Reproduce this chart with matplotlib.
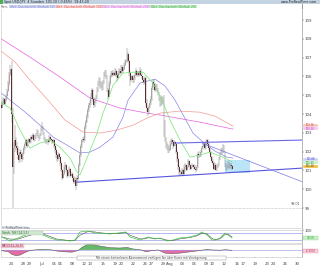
import matplotlib
matplotlib.use("Agg")
import matplotlib.pyplot as plt
from matplotlib.patches import Rectangle

W, H = 320, 267

# x axis: trading-day index counted from Jun 24 (weekends dropped)
tick_days = [0, 2, 3, 5, 7, 8, 10, 12, 13, 15, 17, 18, 20, 22, 23, 25, 26,
             28, 30, 32, 33, 35, 37, 38, 40, 42, 43, 45, 47]
tick_labels = ["24", "28", "29", "Jul", "05", "06", "08", "12", "13", "15", "19", "20",
               "22", "26", "27", "29", "Aug", "03", "05", "09", "10", "12", "16", "17",
               "19", "23", "24", "26", "30"]

# 4h candles, first one is Jun 22 (2nd bar of the day); open = previous close
first_open = 104.60
closes = [
    104.50, 104.35, 104.60, 104.80, 104.55,                      # Jun 22
    104.75, 104.95, 105.25, 105.60, 106.10, 106.40,              # Jun 23
    104.00, 101.20, 102.20, 102.60, 102.30, 102.20,              # Jun 24
    101.80, 101.55, 102.00, 101.85, 101.60, 101.90,              # Jun 27
    102.20, 102.40, 102.60, 102.30, 102.50, 102.65,
    102.50, 102.80, 102.70, 102.90, 102.60, 102.80,
    102.90, 103.10, 102.80, 102.70, 102.90, 103.20,
    103.30, 103.00, 102.70, 102.60, 102.50, 102.60,              # Jul 1
    102.50, 102.80, 102.70, 102.60, 102.50, 102.60,              # Jul 4
    102.30, 102.10, 101.80, 101.60, 101.90, 101.70,
    101.40, 101.00, 100.60, 100.80, 101.20, 101.30,
    101.00, 100.70, 100.90, 101.10, 100.70, 100.80,
    100.60, 100.40, 100.50, 100.20, 100.60, 100.55,              # Jul 8
    101.30, 101.80, 102.30, 102.60, 102.70, 102.60,              # Jul 11
    103.30, 103.60, 103.90, 104.20, 104.50, 104.60,
    104.90, 105.30, 104.80, 104.50, 104.70, 104.90,
    105.30, 105.60, 105.80, 105.50, 105.60, 105.40,
    105.70, 106.10, 106.30, 106.00, 105.30, 104.90,              # Jul 15
    105.60, 106.00, 106.20, 106.10, 106.20, 106.10,              # Jul 18
    106.30, 106.10, 105.90, 106.20, 106.30, 106.20,
    106.50, 106.30, 106.40, 106.60, 106.80, 106.85,
    107.20, 106.80, 106.20, 105.80, 106.00, 105.80,
    105.90, 106.10, 106.30, 106.10, 106.20, 106.10,              # Jul 22
    106.30, 106.10, 106.00, 105.80, 105.70, 105.90,              # Jul 25
    104.60, 104.30, 104.10, 104.40, 104.60, 104.80,
    105.40, 105.70, 105.60, 105.30, 105.50, 105.30,
    105.10, 104.80, 104.50, 104.90, 104.60, 104.80,
    103.50, 102.70, 102.40, 102.30, 102.10, 102.10,              # Jul 29
    102.40, 102.60, 102.50, 102.30, 102.50, 102.40,              # Aug 1
    102.00, 101.60, 101.20, 100.90, 100.90, 100.80,
    101.00, 100.80, 101.20, 101.30, 101.00, 101.20,
    101.50, 101.30, 101.10, 101.20, 101.30, 101.20,
    101.10, 101.00, 101.20, 101.90, 101.80, 101.80,              # Aug 5
    102.00, 102.20, 102.30, 102.40, 102.20, 102.50,              # Aug 8
    102.60, 102.40, 102.20, 102.00, 101.70, 101.50,
    101.40, 101.10, 101.30, 101.00, 101.20, 101.30,
    101.60, 101.90, 102.10, 102.00, 102.30, 102.00,
    101.30, 101.10, 101.20, 101.40, 101.20, 101.30,              # Aug 12
    101.25, 101.10,                                              # Aug 15
]
highs = [
    104.70, 104.62, 104.68, 104.90, 104.85,
    104.85, 105.05, 105.35, 105.75, 106.25, 106.60,
    106.80, 104.30, 102.50, 103.40, 102.80, 102.50,
    102.30, 101.95, 102.15, 102.10, 101.95, 102.00,
    102.30, 102.50, 102.70, 102.65, 102.60, 102.75,
    102.70, 102.90, 102.85, 103.00, 102.95, 102.90,
    103.00, 103.20, 103.15, 102.90, 103.00, 103.30,
    103.60, 103.35, 103.05, 102.80, 102.70, 102.70,
    102.70, 102.90, 102.85, 102.75, 102.65, 102.70,
    102.65, 102.40, 102.20, 101.90, 102.00, 101.95,
    101.75, 101.50, 101.10, 100.95, 101.30, 101.45,
    101.35, 101.10, 101.00, 101.25, 101.15, 100.90,
    100.85, 100.70, 100.65, 100.60, 100.75, 100.70,
    101.40, 101.95, 102.40, 102.70, 102.80, 102.85,
    103.40, 103.70, 104.00, 104.30, 104.60, 104.75,
    105.10, 105.40, 105.35, 104.90, 104.85, 105.00,
    105.45, 105.75, 105.95, 105.90, 105.75, 105.70,
    105.80, 106.25, 106.35, 106.35, 106.10, 105.40,
    105.75, 106.10, 106.30, 106.30, 106.35, 106.25,
    106.45, 106.40, 106.20, 106.30, 106.45, 106.40,
    106.60, 106.60, 106.50, 106.70, 106.90, 106.95,
    107.49, 107.30, 106.90, 106.30, 106.10, 106.10,
    106.05, 106.20, 106.45, 106.35, 106.30, 106.30,
    106.50, 106.40, 106.20, 106.05, 105.90, 106.00,
    105.95, 104.80, 104.40, 104.50, 104.70, 104.95,
    105.50, 105.80, 105.85, 105.65, 105.60, 105.60,
    105.40, 105.20, 104.90, 105.00, 104.95, 104.90,
    105.00, 103.70, 102.80, 102.50, 102.40, 102.30,
    102.55, 102.70, 102.75, 102.60, 102.60, 102.55,
    102.45, 102.10, 101.70, 101.30, 101.00, 101.00,
    101.15, 101.10, 101.30, 101.40, 101.35, 101.30,
    101.60, 101.55, 101.35, 101.30, 101.40, 101.35,
    101.30, 101.20, 101.30, 102.00, 102.05, 101.90,
    102.10, 102.30, 102.40, 102.50, 102.45, 102.60,
    102.65, 102.65, 102.45, 102.25, 102.05, 101.75,
    101.60, 101.45, 101.40, 101.35, 101.30, 101.40,
    101.70, 102.00, 102.20, 102.20, 102.40, 102.35,
    102.05, 101.40, 101.30, 101.50, 101.45, 101.40,
    101.40, 101.30,
]
lows = [
    104.40, 104.25, 104.30, 104.52, 104.48,
    104.48, 104.65, 104.88, 105.15, 105.50, 106.00,
    103.50, 99.01, 100.80, 102.00, 102.10, 101.95,
    101.60, 101.40, 101.45, 101.70, 101.45, 101.55,
    101.85, 102.10, 102.35, 102.20, 102.25, 102.45,
    102.40, 102.45, 102.60, 102.65, 102.50, 102.55,
    102.70, 102.85, 102.75, 102.55, 102.65, 102.85,
    103.10, 102.90, 102.60, 102.45, 102.40, 102.45,
    102.35, 102.45, 102.60, 102.55, 102.40, 102.45,
    102.20, 101.95, 101.65, 101.45, 101.50, 101.60,
    101.25, 100.90, 100.50, 100.55, 100.75, 101.10,
    100.90, 100.60, 100.65, 100.85, 100.60, 100.65,
    100.45, 100.30, 100.35, 99.98, 100.15, 100.45,
    100.90, 101.25, 101.70, 102.20, 102.50, 102.45,
    102.55, 103.20, 103.50, 103.80, 104.10, 104.35,
    104.50, 104.80, 104.65, 104.30, 104.40, 104.60,
    104.80, 105.20, 105.50, 105.35, 105.40, 105.25,
    105.30, 105.60, 105.95, 105.85, 105.15, 104.80,
    104.95, 105.50, 105.90, 105.95, 106.00, 106.00,
    106.05, 105.95, 105.70, 105.85, 106.10, 106.10,
    106.15, 106.20, 106.20, 106.35, 106.55, 106.70,
    106.75, 106.70, 106.05, 105.50, 105.70, 105.65,
    105.65, 105.80, 106.00, 105.95, 106.00, 105.95,
    106.00, 106.00, 105.85, 105.65, 105.55, 105.60,
    104.40, 104.10, 103.90, 104.00, 104.30, 104.50,
    104.70, 105.30, 105.45, 105.20, 105.25, 105.20,
    105.00, 104.70, 104.40, 104.45, 104.50, 104.55,
    102.80, 102.50, 102.20, 102.10, 101.95, 101.95,
    102.05, 102.30, 102.40, 102.15, 102.25, 102.30,
    101.90, 101.45, 101.05, 100.70, 100.75, 100.70,
    100.75, 100.70, 100.75, 101.10, 100.95, 100.95,
    101.15, 101.20, 101.00, 101.05, 101.15, 101.10,
    101.00, 100.90, 100.95, 101.15, 101.65, 101.70,
    101.70, 101.95, 102.15, 102.25, 102.10, 102.15,
    102.40, 102.35, 102.10, 101.90, 101.60, 101.40,
    101.30, 101.00, 101.05, 100.95, 100.95, 101.15,
    101.25, 101.55, 101.85, 101.90, 101.95, 101.95,
    101.20, 100.95, 101.00, 101.15, 101.10, 101.15,
    101.10, 101.05,
]

# moving averages (day index, price)
ma200_d = [-1.80, 3.11, 8.03, 12.95, 17.87, 22.30, 24.43, 30.98, 36.39]
ma200_v = [108.04, 107.03, 105.97, 104.85, 104.32, 104.05, 103.95, 103.57, 103.20]

ma100_d = [-1.80, 0.66, 3.11, 6.07, 8.85, 11.80, 14.59, 17.38, 20.00, 22.30, 24.43,
           27.70, 30.98, 33.44, 36.39]
ma100_v = [107.40, 106.77, 105.81, 104.74, 103.68, 103.04, 102.99, 103.15, 103.41,
           103.79, 104.05, 104.16, 104.10, 103.89, 103.36]

ma50_d = [-1.80, -0.16, 2.30, 4.75, 6.89, 9.18, 11.31, 12.95, 14.59, 16.72, 18.36,
          19.18, 21.15, 23.61, 25.25, 26.89, 29.84, 31.48, 33.44, 35.41, 36.39]
ma50_v = [105.17, 104.74, 104.11, 103.41, 102.78, 102.35, 101.93, 101.98, 102.24,
          102.78, 103.84, 104.74, 105.65, 105.86, 105.49, 104.74, 102.99, 102.51,
          102.03, 101.71, 101.66]

ma20_d = [-1.80, -0.16, 1.48, 3.11, 4.75, 6.39, 8.03, 9.67, 10.82, 11.31, 12.46,
          14.10, 15.08, 15.90, 16.72, 18.36, 20.00, 21.64, 23.28, 24.75, 26.07,
          27.70, 29.34, 30.98, 32.62, 33.77, 34.75, 36.23]
ma20_v = [104.64, 104.32, 103.15, 102.19, 102.46, 102.62, 102.24, 101.66, 100.91,
          100.76, 101.66, 102.99, 104.05, 104.74, 105.54, 106.18, 106.23, 106.23,
          105.65, 104.74, 103.68, 102.62, 101.71, 101.82, 101.98, 101.82, 101.71,
          101.45]

# drawn trend lines and box
support_d = [10.8, 47.9]
support_v = [100.38, 101.13]
resist_d = [26.9, 47.9]
resist_v = [102.46, 102.62]
falling_d = [31.3, 47.9]
falling_v = [102.46, 100.38]
zone_d = [35.1, 39.2]
zone_v = [100.86, 101.55]
low_mark = 99.01

# stochastic
stoch_d = [-1.80, -0.16, 1.15, 2.79, 4.10, 5.25, 6.39, 7.54, 8.52, 9.67, 10.49,
           11.31, 12.62, 13.77, 14.59, 16.23, 17.54, 18.85, 19.51, 21.15, 21.97,
           22.46, 23.61, 24.43, 25.57, 26.56, 27.70, 29.34, 30.49, 31.31, 32.13,
           32.95, 33.44, 34.26, 35.08, 35.57, 36.23]
stoch_k = [53.8, 15.4, 38.5, 69.2, 76.9, 61.5, 38.5, 23.1, 23.1, 15.4, 23.1, 84.6,
           92.3, 76.9, 76.9, 69.2, 76.9, 84.6, 46.2, 23.1, 38.5, 46.2, 30.8, 38.5,
           15.4, 23.1, 38.5, 46.2, 61.5, 84.6, 61.5, 23.1, 23.1, 38.5, 76.9, 61.5,
           38.5]
stoch_sig = [50, 30, 30, 55, 72, 70, 50, 30, 24, 19, 20, 60, 88, 85, 78, 72, 74,
             80, 60, 32, 32, 40, 36, 36, 22, 20, 32, 42, 55, 75, 70, 35, 25, 32,
             65, 68, 48]

# MACD histogram
macd_d = [-1.80, -0.49, 0.16, 0.82, 1.48, 2.30, 3.11, 4.75, 6.39, 7.70, 8.85,
          10.00, 10.98, 11.64, 12.62, 13.61, 14.59, 16.23, 17.87, 19.02, 20.00,
          21.15, 22.13, 23.11, 24.10, 25.25, 26.39, 27.70, 29.34, 30.98, 32.13,
          32.95, 34.26, 35.25, 36.23]
macd_h = [-0.10, -0.25, -0.70, -0.90, -0.80, -0.40, -0.10, 0.10, 0.05, -0.20, -0.30,
          -0.35, -0.10, 0.40, 0.90, 0.80, 0.60, 0.35, 0.30, 0.40, 0.15, 0.05, -0.30,
          -0.10, 0.00, -0.50, -0.60, -0.50, -0.30, -0.10, 0.10, 0.00, -0.05, 0.05,
          -0.10]

BLUE = "#7a7ae8"
RED = "#f29a90"
MAGENTA = "#e460e4"
GREEN = "#74e474"

fig = plt.figure(figsize=(W / 100, H / 100), dpi=100)
fig.patch.set_facecolor("white")


def add_ax(x0, y0, x1, y1):
    return fig.add_axes([x0 / W, 1 - y1 / H, (x1 - x0) / W, (y1 - y0) / H])


def box(x0, y0, x1, y1, fc, ec="none", lw=0.3, z=5):
    fig.add_artist(Rectangle((x0 / W, 1 - y1 / H), (x1 - x0) / W, (y1 - y0) / H,
                             transform=fig.transFigure, facecolor=fc,
                             edgecolor=ec, linewidth=lw, zorder=z))


def label(x, y, s, color, size=2.4, ha="left", z=6):
    fig.text(x / W, 1 - y / H, s, color=color, fontsize=size, ha=ha,
             va="center", zorder=z)


def style(ax):
    ax.set_facecolor("white")
    ax.set_xlim(-1.64, 47.7)
    for side in ("left", "top", "bottom"):
        ax.spines[side].set_color("#c4c4c4")
        ax.spines[side].set_linewidth(0.4)
    ax.spines["right"].set_color("#9a9a9a")
    ax.spines["right"].set_linewidth(0.5)
    ax.yaxis.tick_right()
    ax.tick_params(axis="y", labelsize=2.8, length=1.2, width=0.3, pad=0.8,
                   colors="#444444")


# ---- price panel
ax = add_ax(1, 9, 302, 228)
style(ax)
ax.spines["top"].set_visible(False)
ax.set_ylim(97.94, 109.59)
ax.set_yticks(range(99, 110))
ax.set_xticks([])

opens = [first_open] + closes[:-1]
xs = [(i + 1.5) / 6 - 2 for i in range(len(closes))]
ax.vlines(xs, lows, highs, color="#7c7c7c", lw=0.35, zorder=3)
for x, o, c in zip(xs, opens, closes):
    up = c >= o
    h = max(abs(c - o), 0.04)
    ax.bar(x, h, bottom=min(o, c), width=0.13, color="#a4a4a4" if up else "#5e2e2e",
           linewidth=0, zorder=4)

ax.plot(ma200_d, ma200_v, color=MAGENTA, lw=0.5, zorder=2)
ax.plot(ma100_d, ma100_v, color=RED, lw=0.5, zorder=2)
ax.plot(ma50_d, ma50_v, color=BLUE, lw=0.45, zorder=2)
ax.plot(ma20_d, ma20_v, color=GREEN, lw=0.5, zorder=5)

ax.add_patch(Rectangle((zone_d[0], zone_v[0]), zone_d[1] - zone_d[0],
                       zone_v[1] - zone_v[0], facecolor="#aee0f6",
                       edgecolor="none", alpha=0.85, zorder=1))
ax.plot(support_d, support_v, color="#5555e0", lw=0.8, zorder=6)
ax.plot(resist_d, resist_v, color="#6a6ae6", lw=0.8, zorder=6)
ax.plot(falling_d, falling_v, color="#7a7ae8", lw=0.5, zorder=6)
ax.axhline(low_mark, color="#8a8a8a", lw=0.4, ls=(0, (1, 1.5)), zorder=1)
ax.text(47.4, low_mark + 0.08, f"{low_mark:.2f}", fontsize=2.4, color="#555555",
        ha="right", va="bottom")

# ---- stochastic panel
ax2 = add_ax(1, 230, 302, 243)
style(ax2)
ax2.set_ylim(0, 100)
ax2.set_yticks([100])
ax2.set_xticks([])
ax2.axhline(80, color="#9090ea", lw=0.45)
ax2.axhline(20, color="#9090ea", lw=0.45)
ax2.plot(stoch_d, stoch_sig, color="#505050", lw=0.4)
ax2.plot(stoch_d, stoch_k, color="#3cc03c", lw=0.5)

# ---- MACD panel
ax3 = add_ax(1, 243.5, 302, 257)
style(ax3)
ax3.set_ylim(-1.1, 1.0)
ax3.set_yticks([])
ax3.axhline(0, color="#9a9ae8", lw=0.45)
ax3.fill_between(macd_d, macd_h, 0, where=[v >= 0 for v in macd_h],
                 interpolate=True, color="#58b058", lw=0, alpha=0.9)
ax3.fill_between(macd_d, macd_h, 0, where=[v < 0 for v in macd_h],
                 interpolate=True, color="#e25c9a", lw=0, alpha=0.9)
ax3.plot(macd_d, macd_h, color="#555555", lw=0.35)
ax3.set_xticks(tick_days)
ax3.set_xticklabels(tick_labels)
ax3.tick_params(axis="x", labelsize=2.8, length=1.0, width=0.3, pad=2.5,
                colors="#444444")

# ---- header and legend
box(0, 0, 320, 4, "#c3d3e1")
box(0, 0.3, 2.5, 3.5, "#4caf50", z=6)
label(4, 1.9, "Spot USD/JPY  4 Stunden  101.10 (-0.65%)  19:43:20", "#222222", 2.3)
label(317, 1.9, "www.ProRealTime.com", "#222222", 2.3, ha="right")
box(302, 4, 302.5, 9, "#9a9a9a", z=4)

label(1, 6.5, "Preis:", "#555555", 2.1)
legend = [
    (9, 56, "#d6dcec", BLUE, "Gleit. Durchschnitt (Einfach 50)"),
    (56, 103, "#f6dcdc", "#e04848", "Gleit. Durchschnitt (Einfach 100)"),
    (103, 150, "#eed8f2", MAGENTA, "Gleit. Durchschnitt (Einfach 200)"),
    (150, 197, "#c9eccb", "#2f9e3a", "Gleit. Durchschnitt (Einfach 20)"),
]
for x0, x1, bg, fg, txt in legend:
    box(x0, 4.6, x1, 8.4, bg)
    label((x0 + x1) / 2, 6.5, txt, fg, 2.1, ha="center")

# right side value tags (stacked like the reference, above the "101" tick)
tags = [
    (125.2, "#f7c4c0", "#d03a30", f"{ma100_v[-1]:.2f}"),
    (128.6, "#f2c8f2", "#c030c0", f"{ma200_v[-1]:.2f}"),
    (159.4, "#cdd2f4", "#3a3ad0", f"{ma50_v[-1]:.2f}"),
    (162.8, "#c8f0c8", "#289a28", f"{ma20_v[-1]:.2f}"),
    (166.4, "#f3c242", "#333333", f"{closes[-1]:.2f}"),
]
for yc, bg, fg, txt in tags:
    box(303, yc - 1.6, 318, yc + 1.6, bg, ec="#ffffff", lw=0.2, z=7)
    label(310.5, yc, txt, fg, 1.8, ha="center", z=8)

box(303, 236, 318, 240, "#c8f0c8", ec="#7ac87a", lw=0.2, z=7)
label(310.5, 238, f"{stoch_k[-1]:.2f}", "#289a28", 2.0, ha="center", z=8)
box(303, 248.5, 318, 252.5, "#f8d0dc", ec="#e07090", lw=0.2, z=7)
label(310.5, 250.5, f"{macd_h[-1]:.4f}", "#c03050", 2.0, ha="center", z=8)

# panel captions
box(1, 226.3, 27, 229.3, "#dfe6ee", z=7)
label(2, 227.8, "© ProRealTime.com", "#555555", 2.0, z=8)
box(1, 231, 43, 234.6, "#cfe8d0", ec="#9fbfa0", lw=0.2, z=7)
label(2, 232.8, "Stoch. %K (14,3,5)", "#2d5f2d", 2.1, z=8)
box(1, 244, 24, 247.6, "#f4c8d4", ec="#d89aaa", lw=0.2, z=7)
label(2, 245.8, "MACD(12,26,9)", "#8a2a4a", 2.1, z=8)

# subscription notice
box(77, 255.6, 226, 259.8, "#ffffff", ec="#8a8a8a", lw=0.3, z=7)
label(151.5, 257.7,
      "Mit einem kostenlosen Abonnement verfügen Sie über Kurse mit Verzögerung",
      "#444444", 2.1, ha="center", z=8)

fig.savefig("out.png", dpi=100, facecolor="white")
